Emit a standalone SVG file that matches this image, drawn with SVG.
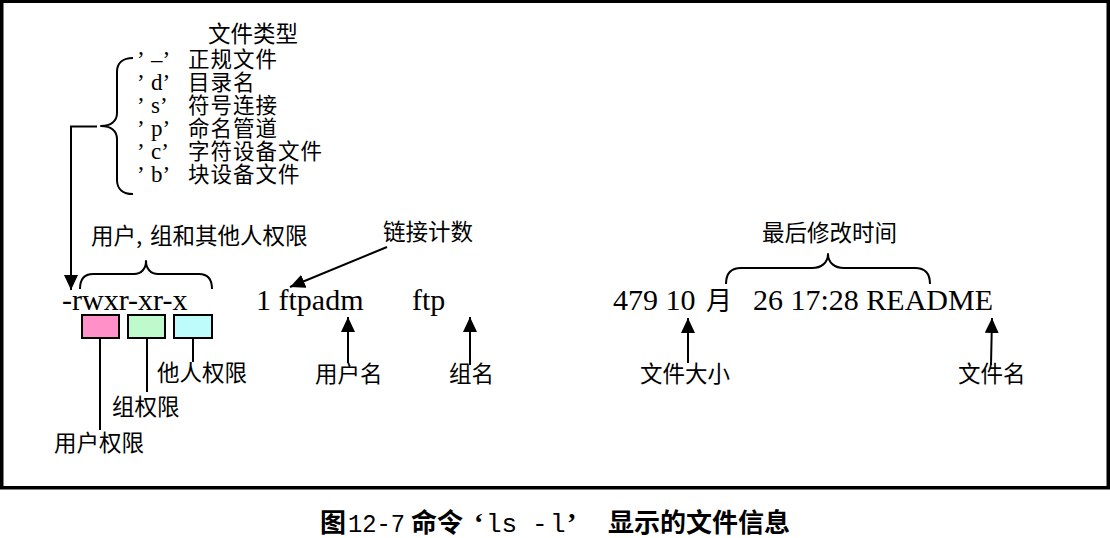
<svg xmlns="http://www.w3.org/2000/svg" width="1110" height="538" viewBox="0 0 1110 538">
<style>
.cn{font-family:"Noto Sans CJK SC","Noto Sans",sans-serif;font-size:22.5px;fill:#000}
.li{font-family:"Noto Sans CJK SC","Noto Sans",sans-serif;font-size:21.5px;letter-spacing:1px}
.lat{font-family:"Liberation Serif","Times New Roman",serif;font-size:30px;fill:#000}
.q{font-family:"Liberation Serif","Times New Roman",serif;font-size:23px;letter-spacing:0}
.lst{fill:#000}
.cap{font-family:"Noto Sans CJK SC",sans-serif;font-size:26px;font-weight:bold;fill:#000}
.capq{font-family:"Liberation Serif","Times New Roman",serif;font-size:28px;font-weight:bold;fill:#000}
.capm{font-family:"Liberation Mono","Courier New",monospace;font-size:26px;fill:#000}
.ln{fill:none;stroke:#000;stroke-width:2}
.br{fill:none;stroke:#000;stroke-width:2;stroke-linejoin:round}
.box{stroke:#000;stroke-width:2}
</style>
<defs>
<marker id="ah" markerUnits="userSpaceOnUse" markerWidth="15" markerHeight="14" refX="15" refY="7" orient="auto" viewBox="0 0 15 14">
<path d="M0,0 L15,7 L0,14 z" fill="#000"/>
</marker>
</defs>
<rect x="0" y="0" width="1110" height="538" fill="#fff"/>
<rect x="1.75" y="1.25" width="1106.5" height="486.5" fill="none" stroke="#000" stroke-width="3.5"/>

<g id="file-type">
<text class="cn" x="208" y="41.5">文件类型</text>
<text class="lst"><tspan class="q" x="137" y="66.5">’</tspan><tspan class="q" x="151" y="66.5">–’</tspan><tspan class="li" x="188" y="66.5">正规文件</tspan><tspan class="q" x="137" y="90">’</tspan><tspan class="q" x="151" y="90">d’</tspan><tspan class="li" x="188" y="90">目录名</tspan><tspan class="q" x="137" y="113">’</tspan><tspan class="q" x="151" y="113">s’</tspan><tspan class="li" x="188" y="113">符号连接</tspan><tspan class="q" x="137" y="136">’</tspan><tspan class="q" x="151" y="136">p’</tspan><tspan class="li" x="188" y="136">命名管道</tspan><tspan class="q" x="137" y="159">’</tspan><tspan class="q" x="151" y="159">c’</tspan><tspan class="li" x="188" y="159">字符设备文件</tspan><tspan class="q" x="137" y="182">’</tspan><tspan class="q" x="151" y="182">b’</tspan><tspan class="li" x="188" y="182">块设备文件</tspan></text>
</g>

<g id="permissions">
<text class="cn" x="91" y="243.5">用户,</text>
<text class="cn" x="150" y="243.5">组和其他人权限</text>
<text class="lat" x="62" y="310">-rwxr-xr-x</text>
<rect class="box" x="82" y="315" width="37" height="23" fill="#FF90C8"/>
<rect class="box" x="128" y="315" width="37" height="23" fill="#BEFACB"/>
<rect class="box" x="174" y="315" width="38" height="23" fill="#BEFCFC"/>
<text class="cn" x="157" y="381">他人权限</text>
<text class="cn" x="112" y="415">组权限</text>
<text class="cn" x="54" y="451">用户权限</text>
</g>

<g id="links-owner">
<text class="lat" x="256" y="310">1 ftpadm</text>
<text class="lat" x="412" y="310">ftp</text>
<text class="cn" x="383" y="240">链接计数</text>
<text class="cn" x="315" y="382">用户名</text>
<text class="cn" x="449" y="382">组名</text>
</g>

<g id="size-time-name">
<text class="lat" x="613" y="310">479 10</text>
<text class="cn" x="706" y="310" style="font-size:26px">月</text>
<text class="lat" x="753" y="310">26 17:28 README</text>
<text class="cn" x="762" y="241">最后修改时间</text>
<text class="cn" x="640" y="382">文件大小</text>
<text class="cn" x="958" y="382">文件名</text>
</g>

<g id="connectors">
<path class="br" d="M133,58 C123,58 117,63 117,72 L117,113 C117,121 111,126 101,126 C111,126 117,131 117,139 L117,180 C117,189 123,194 133,194"/>
<line class="ln" x1="97" y1="126.5" x2="70" y2="126.5"/>
<line class="ln" x1="71" y1="126" x2="71" y2="290" marker-end="url(#ah)"/>
<path class="br" d="M80,289 C80,280 84,274 93,274 L134,274 C141,274 146,269 146,261 C146,269 151,274 158,274 L199,274 C208,274 212,280 212,289"/>
<path class="br" d="M726,284 C726,274 731,268 741,268 L812,268 C821,268 828,263 828,254 C828,263 835,268 844,268 L915,268 C925,268 930,274 930,284"/>
<line class="ln" x1="100" y1="338" x2="100" y2="430"/>
<line class="ln" x1="147" y1="338" x2="147" y2="392"/>
<line class="ln" x1="193" y1="338" x2="193" y2="362"/>
<line class="ln" x1="387" y1="247" x2="290" y2="287" marker-end="url(#ah)"/>
<line class="ln" x1="348" y1="363" x2="348" y2="317" marker-end="url(#ah)"/>
<line class="ln" x1="470" y1="365" x2="470" y2="317" marker-end="url(#ah)"/>
<line class="ln" x1="688" y1="363" x2="688" y2="318" marker-end="url(#ah)"/>
<line class="ln" x1="991" y1="365" x2="992" y2="318" marker-end="url(#ah)"/>
</g>

<g id="caption">
<text class="cap" x="320" y="532">图</text>
<text class="capm" x="348" y="532" textLength="57" lengthAdjust="spacingAndGlyphs">12-7</text>
<text class="cap" x="411" y="532">命令</text>
<text class="capq" x="474" y="532">‘</text>
<text class="capm" x="486" y="532">ls</text>
<text class="capm" x="532" y="532">-</text>
<text class="capm" x="550" y="532">l</text>
<text class="capq" x="567" y="532">’</text>
<text class="cap" x="608" y="532">显示的文件信息</text>
</g>
</svg>
